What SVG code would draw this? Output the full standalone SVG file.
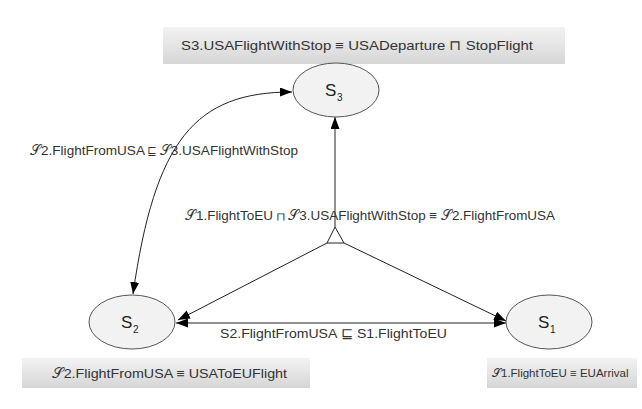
<svg xmlns="http://www.w3.org/2000/svg" width="642" height="409" viewBox="0 0 642 409">
<defs>
<linearGradient id="boxg" x1="0" y1="0" x2="0" y2="1">
<stop offset="0" stop-color="#f2f2f2"/>
<stop offset="1" stop-color="#d6d6d6"/>
</linearGradient>
<marker id="ah" markerUnits="userSpaceOnUse" markerWidth="13" markerHeight="10" refX="12" refY="4.5" orient="auto-start-reverse">
<path d="M0,0 L12,4.5 L0,9 z" fill="#000"/>
</marker>
<style>
.box{fill:url(#boxg);stroke:none}
.node{fill:#f2f2f2;stroke:#555;stroke-width:1}
.lbl{font-family:"Liberation Sans",Arial,sans-serif;font-size:13.5px;fill:#333}
.small{font-size:11.5px}
.conn{fill:none;stroke:#222;stroke-width:1}
.sn{font-family:"Liberation Sans",Arial,sans-serif;font-size:17px;fill:#222}
.sub{font-family:"Liberation Sans",Arial,sans-serif;font-size:10px;fill:#222}
</style>
</defs>
<rect width="642" height="409" fill="#fff"/>
<g id="box-top">
<rect class="box" x="163" y="27" width="402" height="37"/>
<text class="lbl" x="181" y="50" textLength="352" lengthAdjust="spacingAndGlyphs">S3.USAFlightWithStop ≡ USADeparture ⊓ StopFlight</text>
</g>
<g id="box-s2">
<rect class="box" x="22" y="358" width="288" height="30"/>
<text class="lbl" x="52" y="378" textLength="235" lengthAdjust="spacingAndGlyphs">𝒮2.FlightFromUSA ≡ USAToEUFlight</text>
</g>
<g id="box-s1">
<rect class="box" x="487" y="358" width="150" height="30"/>
<text class="lbl small" x="492" y="377">𝒮1.FlightToEU ≡ EUArrival</text>
</g>
<g id="connectors">
<line class="conn" x1="335" y1="227" x2="335" y2="117" marker-end="url(#ah)"/>
<polygon points="335,227 327,243 344,243" fill="#fff" stroke="#222" stroke-width="1"/>
<line class="conn" x1="327" y1="243" x2="178" y2="320" marker-end="url(#ah)"/>
<line class="conn" x1="344" y1="243" x2="506" y2="321" marker-end="url(#ah)"/>
<line class="conn" x1="176" y1="323" x2="506" y2="323" marker-start="url(#ah)" marker-end="url(#ah)"/>
<path class="conn" d="M133,294 C155,140 195,92 292,92" marker-start="url(#ah)" marker-end="url(#ah)"/>
<text class="lbl" x="30" y="155" textLength="268" lengthAdjust="spacingAndGlyphs">𝒮2.FlightFromUSA ⊑ 𝒮3.USAFlightWithStop</text>
<text class="lbl" x="185" y="220" textLength="370" lengthAdjust="spacingAndGlyphs">𝒮1.FlightToEU ⊓ 𝒮3.USAFlightWithStop ≡ 𝒮2.FlightFromUSA</text>
<text class="lbl" x="220" y="338" textLength="227" lengthAdjust="spacingAndGlyphs">S2.FlightFromUSA ⊑ S1.FlightToEU</text>
</g>
<g id="S3">
<ellipse class="node" cx="336" cy="90" rx="43" ry="27"/>
<text class="sn" x="325" y="96">S</text><text class="sub" x="337" y="101">3</text>
</g>
<g id="S2">
<ellipse class="node" cx="132" cy="322" rx="43" ry="27"/>
<text class="sn" x="121" y="328">S</text><text class="sub" x="133" y="333">2</text>
</g>
<g id="S1">
<ellipse class="node" cx="549" cy="322" rx="43" ry="27"/>
<text class="sn" x="538" y="328">S</text><text class="sub" x="550" y="333">1</text>
</g>
</svg>
